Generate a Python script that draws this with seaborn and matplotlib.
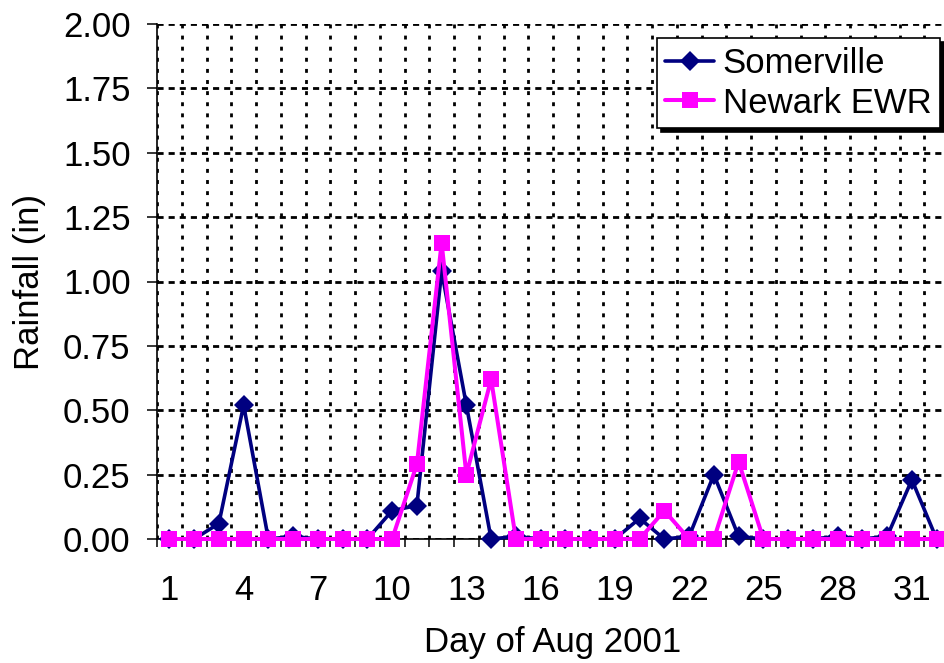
import numpy as np
import pandas as pd
import matplotlib
matplotlib.use("Agg")
import matplotlib.pyplot as plt
from matplotlib.ticker import FixedLocator, FormatStrFormatter
import seaborn as sns

# Daily rainfall, Aug 2001 (plus the following day)
days = list(range(1, 33))
somerville = [0.00, 0.00, 0.06, 0.52, 0.00, 0.01, 0.00, 0.00, 0.00, 0.11,
              0.13, 1.04, 0.52, 0.00, 0.01, 0.00, 0.00, 0.00, 0.00, 0.08,
              0.00, 0.01, 0.25, 0.01, 0.00, 0.00, 0.00, 0.01, 0.00, 0.01,
              0.23, 0.00]
newark = [0.00, 0.00, 0.00, 0.00, 0.00, 0.00, 0.00, 0.00, 0.00, 0.00,
          0.29, 1.15, 0.25, 0.62, 0.00, 0.00, 0.00, 0.00, 0.00, 0.00,
          0.11, 0.00, 0.00, 0.30, 0.00, 0.00, 0.00, 0.00, 0.00, 0.00,
          0.00, 0.00]
stations = ["Somerville", "Newark EWR"]
x_tick_days = list(range(1, 32, 3))
y_ticks = [0.00, 0.25, 0.50, 0.75, 1.00, 1.25, 1.50, 1.75, 2.00]

df = pd.DataFrame({
    "day": days * 2,
    "rain": somerville + newark,
    "station": [stations[0]] * len(days) + [stations[1]] * len(days),
})

sns.set_style("white")
FS = 25
plt.rcParams.update({
    "font.family": ["Liberation Sans", "DejaVu Sans"],
    "font.size": FS,
    "text.color": "black",
    "axes.labelcolor": "black",
    "xtick.color": "black",
    "ytick.color": "black",
})

W, H = 944, 663
fig = plt.figure(figsize=(W / 100, H / 100), dpi=100)
step = 24.75
ax = fig.add_axes([157 / W, 1 - 539 / H, 32 * step / W, 515 / H])

styles = {
    "Somerville": dict(color="#000080", marker="D", ms=9.8, lw=2.6),
    "Newark EWR": dict(color="#FF00FF", marker="s", ms=12.2, lw=2.9),
}
for name in stations:
    st = styles[name]
    sns.lineplot(data=df[df["station"] == name], x="day", y="rain", ax=ax,
                 color=st["color"], marker=st["marker"], markersize=st["ms"],
                 linewidth=st["lw"], markeredgecolor=st["color"],
                 markeredgewidth=0, label=name, clip_on=False, zorder=3)

ax.set_xlim(0.5, 32.5)
ax.set_ylim(0, 2.0)

ax.xaxis.set_major_locator(FixedLocator(x_tick_days))
ax.xaxis.set_minor_locator(FixedLocator(np.arange(0.5, 33, 1.0)))
ax.yaxis.set_major_locator(FixedLocator(y_ticks))
ax.yaxis.set_major_formatter(FormatStrFormatter("%.2f"))

ax.tick_params(axis="x", which="major", length=0, pad=25, labelsize=FS,
               colors="black")
ax.tick_params(axis="x", which="minor", length=6, width=1.1, direction="out",
               color="black", bottom=True)
ax.tick_params(axis="y", which="major", length=7, width=1.1, direction="out",
               pad=12, labelsize=FS, colors="black", left=True)

ax.grid(False)
ax.grid(True, which="minor", axis="x", color="black", linewidth=2.0,
        linestyle=(0, (1.4, 2.6)))
ax.grid(True, which="major", axis="y", color="black", linewidth=2.0,
        linestyle=(0, (2.2, 1.8)))
ax.set_axisbelow(True)

for side in ("top", "right"):
    ax.spines[side].set_visible(False)
for side in ("left", "bottom"):
    ax.spines[side].set_color("black")
    ax.spines[side].set_linewidth(1.2)
    ax.spines[side].set_zorder(2.5)

ax.set_xlabel("Day of Aug 2001", fontsize=FS, labelpad=14, color="black")
ax.set_ylabel("Rainfall (in)", fontsize=FS, labelpad=12, color="black")

leg = ax.legend(loc="upper right", bbox_to_anchor=(940 / W, 1 - 38 / H),
                bbox_transform=fig.transFigure, fontsize=FS, frameon=True,
                fancybox=False, edgecolor="black", framealpha=1,
                handlelength=1.4, handletextpad=0.25, borderpad=0.25,
                labelspacing=0.2, borderaxespad=0, labelcolor="black",
                shadow={"ox": 3, "oy": -3, "facecolor": "black",
                        "edgecolor": "black", "alpha": 1})
leg.get_frame().set_linewidth(1.2)
leg.set_zorder(5)

fig.savefig("out.png", dpi=100)
